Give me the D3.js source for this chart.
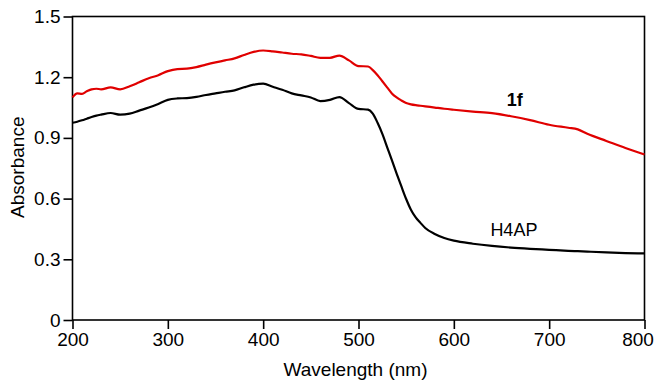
<!DOCTYPE html>
<html>
<head>
<meta charset="utf-8">
<script src="https://cdn.jsdelivr.net/npm/d3@7"></script>
<style>
  body { margin: 0; background: #fff; }
  svg { display: block; font-family: "Liberation Sans", Arial, Helvetica, sans-serif; }
  .tick text { font-size: 19px; fill: #000; }
</style>
</head>
<body>
<div id="chart"></div>
<script>
// wavelength samples (nm)
const wavelengths = [200, 205, 210, 215, 220, 225, 230, 240, 250, 260, 270, 280, 290, 300, 310, 320, 330, 340,
  350, 360, 370, 380, 390, 400, 410, 420, 430, 440, 450, 460, 470, 480, 490, 500, 510, 515, 520, 525, 530, 535,
  540, 545, 550, 555, 560, 565, 570, 580, 590, 600, 620, 640, 660, 680, 700, 720, 730, 740, 760, 780, 800];

// 1f (red)
const abs1f = [1.10, 1.12, 1.118, 1.13, 1.14, 1.143, 1.14, 1.15, 1.14, 1.155, 1.175, 1.195, 1.21, 1.23, 1.24, 1.242, 1.25, 1.262,
  1.273, 1.283, 1.293, 1.31, 1.325, 1.332, 1.328, 1.322, 1.316, 1.313, 1.305, 1.296, 1.296, 1.307, 1.283, 1.255, 1.253, 1.235, 1.21, 1.18, 1.15, 1.12,
  1.10, 1.085, 1.072, 1.066, 1.062, 1.059, 1.056, 1.05, 1.044, 1.039, 1.03, 1.022, 1.007, 0.988, 0.965, 0.95, 0.942, 0.92, 0.885, 0.85, 0.818];

// H4AP (black)
const absH4AP = [0.975, 0.98, 0.987, 0.995, 1.003, 1.01, 1.015, 1.023, 1.015, 1.02, 1.035, 1.05, 1.068, 1.088, 1.095, 1.097, 1.103, 1.112,
  1.12, 1.128, 1.135, 1.15, 1.163, 1.168, 1.153, 1.138, 1.12, 1.11, 1.10, 1.082, 1.088, 1.102, 1.072, 1.043, 1.04, 1.02, 0.975, 0.92, 0.855, 0.79,
  0.724, 0.66, 0.598, 0.545, 0.507, 0.48, 0.455, 0.425, 0.405, 0.392, 0.377, 0.366, 0.358, 0.352, 0.347, 0.342, 0.34, 0.338, 0.334, 0.331, 0.329];

const xTicks = [200, 300, 400, 500, 600, 700, 800];
const yTicks = [0, 0.3, 0.6, 0.9, 1.2, 1.5];

// series labels: text, wavelength, absorbance
const seriesNames = ['1f', 'H4AP'];
const labelNm = [664, 663];
const labelAbs = [1.056, 0.414];

const width = 658;
const height = 381;
const margin = { top: 16.5, right: 13.5, bottom: 61, left: 72.5 };
const innerW = width - margin.left - margin.right;
const innerH = height - margin.top - margin.bottom;

const svg = d3.select('#chart').append('svg')
  .attr('width', width)
  .attr('height', height);

const g = svg.append('g')
  .attr('transform', 'translate(' + margin.left + ',' + margin.top + ')');

const x = d3.scaleLinear().domain([200, 800]).range([0, innerW]);
const y = d3.scaleLinear().domain([0, 1.5]).range([innerH, 0]);

// frame
g.append('rect')
  .attr('width', innerW)
  .attr('height', innerH)
  .attr('fill', 'none')
  .attr('stroke', '#000')
  .attr('stroke-width', 1.6);

const xAxis = d3.axisBottom(x).tickValues(xTicks).tickSize(9).tickPadding(4).tickFormat(d3.format('d'));
const yAxis = d3.axisLeft(y).tickValues(yTicks).tickSize(9).tickPadding(3).tickFormat(d => d === 0 ? '0' : d3.format('.1f')(d));

const gx = g.append('g').attr('transform', 'translate(0,' + innerH + ')').call(xAxis);
const gy = g.append('g').call(yAxis);
[gx, gy].forEach(a => {
  a.select('.domain').remove();
  a.selectAll('.tick line').attr('stroke', '#000').attr('stroke-width', 1.6);
});
// last x label sits a little left so it stays inside the page
gx.selectAll('.tick text').filter(d => d === 800).attr('dx', -7);

// curves
const line = d3.line()
  .x((d, i) => x(wavelengths[i]))
  .y(d => y(d))
  .curve(d3.curveMonotoneX);

g.append('path')
  .datum(absH4AP)
  .attr('fill', 'none')
  .attr('stroke', '#000')
  .attr('stroke-width', 2.2)
  .attr('d', line);

g.append('path')
  .datum(abs1f)
  .attr('fill', 'none')
  .attr('stroke', '#e00000')
  .attr('stroke-width', 2.2)
  .attr('d', line);

// series labels
g.selectAll('.series-label')
  .data(seriesNames)
  .enter().append('text')
  .attr('class', 'series-label')
  .attr('x', (d, i) => x(labelNm[i]))
  .attr('y', (d, i) => y(labelAbs[i]))
  .attr('text-anchor', 'middle')
  .attr('font-size', '18px')
  .attr('font-weight', (d, i) => i === 0 ? 'bold' : 'normal')
  .text(d => d);

// axis titles
svg.append('text')
  .attr('x', margin.left + x(500) - 3)
  .attr('y', 376)
  .attr('text-anchor', 'middle')
  .attr('font-size', '19px')
  .text('Wavelength (nm)');

svg.append('text')
  .attr('transform', 'translate(24,' + (margin.top + y(0.75) - 1) + ') rotate(-90)')
  .attr('text-anchor', 'middle')
  .attr('font-size', '19px')
  .text('Absorbance');
</script>
</body>
</html>
